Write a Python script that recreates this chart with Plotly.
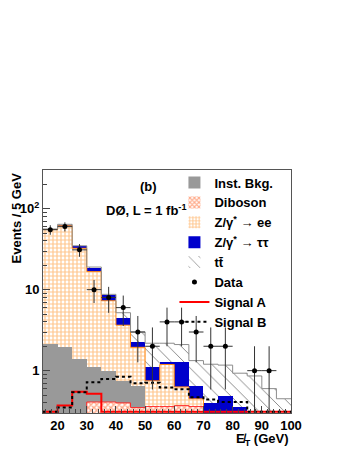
import numpy as np
import plotly.graph_objects as go

# 5 GeV bins of missing ET, lower edges
bin_low = [15, 20, 25, 30, 35, 40, 45, 50, 55, 60, 65, 70, 75, 80, 85, 90, 95]
bin_width = 5

# background contributions per bin (events / 5 GeV), stacked bottom -> top
diboson  = [0.20, 0.20, 0.22, 0.41, 0.41, 0.40, 0.35, 0.36, 0.36, 0.37, 0.36, 0.20, 0.15, 0.10, 0.05, 0.05, 0.03]
inst_bkg = [1.94, 1.76, 1.17, 0.70, 0.59, 0.34, 0.29, 0.0, 0.0, 0.0, 0.0, 0.0, 0.0, 0.0, 0.0, 0.0, 0.0]
z_ee     = [52.9, 59.6, 31.0, 15.6, 6.3, 2.9, 1.30, 0.39, 0.83, 0.26, 0.09, 0.05, 0.05, 0.05, 0.02, 0.01, 0.01]
z_tautau = [1.0, 2.4, 2.3, 2.2, 1.3, 0.8, 0.30, 0.35, 0.08, 0.64, 0.19, 0.15, 0.29, 0.21, 0.0, 0.0, 0.0]
ttbar    = [0.1, 0.1, 0.1, 0.1, 0.15, 0.75, 0.76, 1.08, 0.91, 0.83, 0.69, 0.80, 0.68, 0.57, 0.79, 0.54, 0.41]

# observed events
data = [55, 60, 31, 10, 8, 6, 3, 2, 4, 4, 3, 2, 2, 0, 1, 1, 0]

# signal hypotheses (overlaid, not stacked); 0.31 = sits on the axis floor
signal_a = [0.31, 0.37, 0.55, 0.52, 0.31, 0.31, 0.31, 0.31, 0.31, 0.31, 0.31, 0.31, 0.31, 0.31, 0.31, 0.31, 0.31]
signal_b = [0.31, 0.35, 0.54, 0.72, 0.79, 0.84, 0.70, 0.71, 0.62, 0.59, 0.47, 0.44, 0.41, 0.41, 0.31, 0.31, 0.31]

centers = np.array(bin_low) + bin_width / 2
edges = bin_low + [bin_low[-1] + bin_width]


def step(vals):
    vals = list(vals)
    return vals + [vals[-1]]


fig = go.Figure()

stack = [
    ('Diboson', diboson, dict(color='white', pattern=dict(shape='x', fgcolor='#ff5a1a', bgcolor='white', size=4, solidity=0.6)), 2),
    ('Inst. Bkg.', inst_bkg, dict(color='#999999'), 1),
    ('Z/γ<sup>*</sup> → ee', z_ee, dict(color='white', pattern=dict(shape='+', fgcolor='#ff8c1a', bgcolor='white', size=4, solidity=0.5)), 3),
    ('Z/γ<sup>*</sup> → ττ', z_tautau, dict(color='#0000cc'), 4),
    ('tt̄', ttbar, dict(color='white', pattern=dict(shape='\\', fgcolor='black', bgcolor='white', size=9, solidity=0.1)), 5),
]
for name, vals, marker, rank in stack:
    marker['line'] = dict(width=0)
    fig.add_trace(go.Bar(name=name, x=centers, y=vals, width=bin_width,
                         marker=marker, legendrank=rank))

# histogram outlines of the cumulative stack
cum = np.cumsum([diboson, inst_bkg, z_ee, z_tautau, ttbar], axis=0)
for level, col in [(0, '#ff2a2a'), (2, '#ff8c1a'), (4, '#8c8c8c')]:
    fig.add_trace(go.Scatter(x=edges, y=step(cum[level]), mode='lines',
                             line=dict(color=col, width=1, shape='hv'),
                             showlegend=False, hoverinfo='skip'))

fig.add_trace(go.Scatter(name='Signal A', x=edges, y=step(signal_a), mode='lines',
                         line=dict(color='#ff0000', width=2, shape='hv'), legendrank=7))
fig.add_trace(go.Scatter(name='Signal B', x=edges, y=step(signal_b), mode='lines',
                         line=dict(color='black', width=2, shape='hv', dash='dot'), legendrank=8))

n = np.array(data, dtype=float)
mask = n > 0
fig.add_trace(go.Scatter(name='Data', x=centers[mask], y=n[mask], mode='markers',
                         marker=dict(color='black', size=5),
                         error_y=dict(type='data', array=np.sqrt(n[mask]), color='#333333', thickness=1, width=0),
                         error_x=dict(type='constant', value=bin_width / 2, color='#333333', thickness=1, width=0),
                         legendrank=6))

# page body adds an 8px offset, so the figure is 8px smaller and margins shifted
fig.update_layout(
    width=341, height=443,
    margin=dict(l=30, r=58, t=162, b=38),
    paper_bgcolor='white', plot_bgcolor='white',
    font=dict(family='Liberation Sans, Arial, sans-serif', size=13, color='black', weight='bold'),
    barmode='stack', bargap=0,
    legend=dict(x=0.53, y=1.01, xanchor='left', yanchor='top', bgcolor='rgba(0,0,0,0)',
                font=dict(size=13), traceorder='normal'),
    annotations=[
        dict(text='(b)', x=0.425, y=0.972, xref='paper', yref='paper', showarrow=False,
             font=dict(size=13)),
        dict(text='DØ, L = 1 fb<sup>-1</sup>', x=0.245, y=0.875, xref='paper', yref='paper',
             xanchor='left', showarrow=False, font=dict(size=13)),
        dict(text='Events / 5 GeV', x=-0.105, y=1.0, xref='paper', yref='paper',
             xanchor='center', yanchor='top', textangle=-90, showarrow=False, font=dict(size=13)),
        dict(text='E̸<sub>T</sub> (GeV)', x=1.0, y=-0.11, xref='paper', yref='paper',
             xanchor='right', yanchor='middle', showarrow=False, font=dict(size=13)),
    ],
)

fig.update_xaxes(range=[15, 100], tickvals=list(range(20, 101, 10)), ticks='inside', ticklen=7,
                 tickcolor='#444', showline=True, linecolor='#555', mirror=True, showgrid=False,
                 zeroline=False, tickfont=dict(size=13),
                 minor=dict(ticks='inside', ticklen=4, dtick=2, tick0=0, tickcolor='#444', showgrid=False))
fig.update_yaxes(type='log', range=[np.log10(0.3), np.log10(300)], tickvals=[1, 10, 100],
                 ticktext=['1', '10', '10<sup>2</sup>'], ticks='inside', ticklen=7, tickcolor='#444',
                 showline=True, linecolor='#555', mirror=True, showgrid=False, zeroline=False,
                 tickfont=dict(size=13),
                 minor=dict(ticks='inside', ticklen=4, tickcolor='#444', showgrid=False,
                            tickvals=[0.3, 0.4, 0.5, 0.6, 0.7, 0.8, 0.9, 2, 3, 4, 5, 6, 7, 8, 9,
                                      20, 30, 40, 50, 60, 70, 80, 90, 200, 300]))

fig.write_html("out.html")
